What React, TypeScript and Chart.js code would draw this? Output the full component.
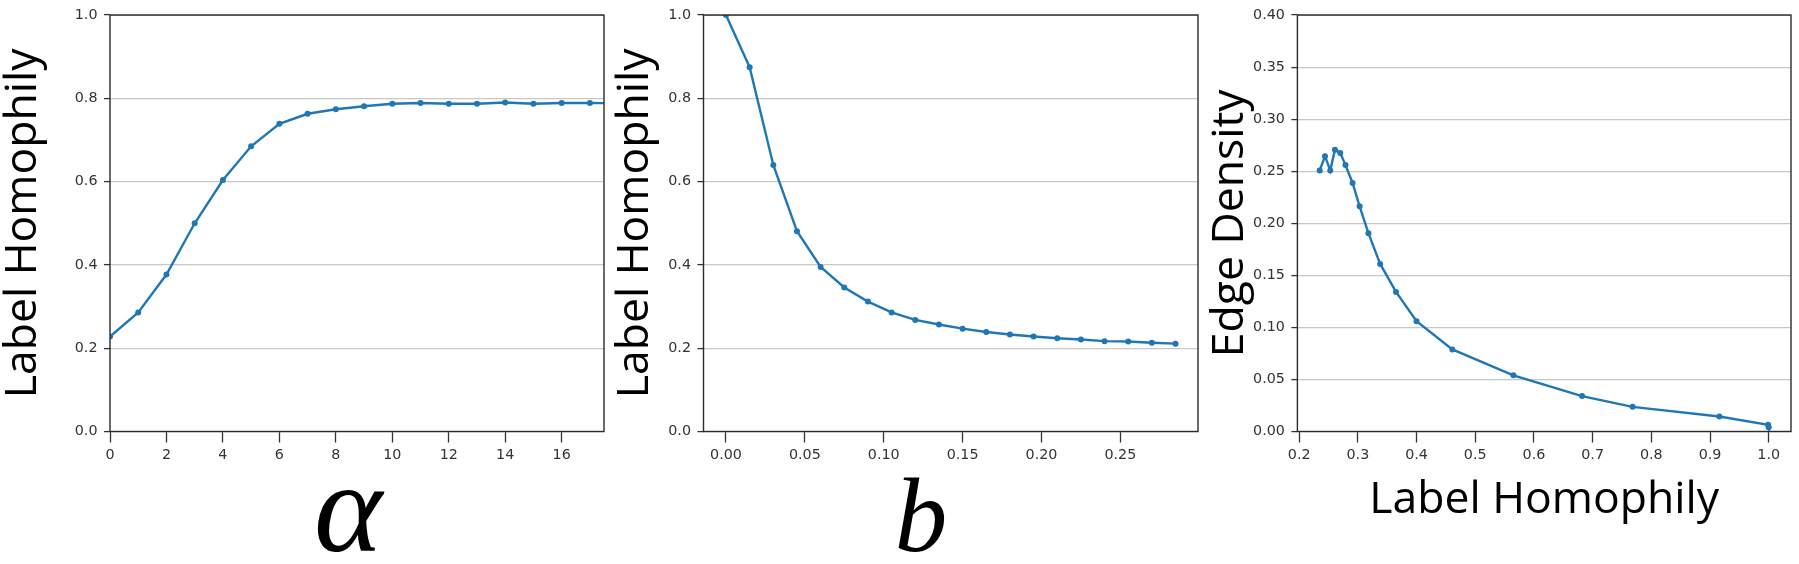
import React, { useEffect, useRef } from 'react';
import { Chart, registerables } from 'chart.js';

Chart.register(...registerables);

// ---------- data ----------
const ALPHA_X = [0, 1, 2, 3, 4, 5, 6, 7, 8, 9, 10, 11, 12, 13, 14, 15, 16, 17, 18];
const ALPHA_HOMOPHILY = [0.228, 0.286, 0.377, 0.5, 0.604, 0.685, 0.739, 0.763, 0.774, 0.781, 0.787, 0.789, 0.787, 0.787, 0.79, 0.787, 0.789, 0.789, 0.788];

const B_X = [0, 0.015, 0.03, 0.045, 0.06, 0.075, 0.09, 0.105, 0.12, 0.135, 0.15, 0.165, 0.18, 0.195, 0.21, 0.225, 0.24, 0.255, 0.27, 0.285];
const B_HOMOPHILY = [1.0, 0.875, 0.64, 0.481, 0.395, 0.346, 0.312, 0.286, 0.268, 0.257, 0.247, 0.239, 0.233, 0.228, 0.224, 0.221, 0.217, 0.216, 0.213, 0.211];

const H_HOMOPHILY = [0.235, 0.244, 0.253, 0.261, 0.27, 0.279, 0.291, 0.303, 0.318, 0.338, 0.365, 0.4, 0.461, 0.565, 0.682, 0.768, 0.916, 0.999, 1.0];
const H_DENSITY = [0.2507, 0.2645, 0.2507, 0.2707, 0.2676, 0.2559, 0.2387, 0.2163, 0.1905, 0.161, 0.1341, 0.1059, 0.0788, 0.054, 0.034, 0.0237, 0.0144, 0.0065, 0.0041];

const ALPHA_TICKS = [0, 2, 4, 6, 8, 10, 12, 14, 16];
const B_TICKS = [0, 0.05, 0.1, 0.15, 0.2, 0.25];
const H_TICKS = [0.2, 0.3, 0.4, 0.5, 0.6, 0.7, 0.8, 0.9, 1.0];
const HOMOPHILY_Y_TICKS = [0, 0.2, 0.4, 0.6, 0.8, 1.0];
const DENSITY_Y_TICKS = [0, 0.05, 0.1, 0.15, 0.2, 0.25, 0.3, 0.35, 0.4];

// ---------- styling ----------
const PAGE_H = 564;
const PLOT_TOP = 11.7;
const PLOT_BOTTOM = 431.5;
const BLUE = '#1f77b4';
const TICK_FONT = { family: 'DejaVu Sans', size: 14.3 };
const TITLE_FONT = { family: 'Open Sans', size: 44.5, lineHeight: 1 };

const framePlugin = {
  id: 'frame',
  afterDatasetsDraw(chart: any) {
    const { ctx, chartArea } = chart;
    const { left, top, right, bottom } = chartArea;
    ctx.save();
    ctx.strokeStyle = '#2b2b2b';
    ctx.lineWidth = 1.4;
    ctx.strokeRect(left, top, right - left, bottom - top);
    ctx.restore();
  },
};

type PanelProps = {
  axisLeft: number;
  plotLeft: number;
  plotRight: number;
  xs: number[];
  ys: number[];
  xMin: number;
  xMax: number;
  yMin: number;
  yMax: number;
  xTicks: number[];
  yTicks: number[];
  xDecimals: number;
  yDecimals: number;
  yTitle: string;
  xTitle?: string;
};

function Panel(p: PanelProps) {
  const ref = useRef<HTMLCanvasElement | null>(null);
  const width = p.plotRight + 8 - p.axisLeft;
  const yAxisWidth = p.plotLeft - p.axisLeft;
  const xAxisHeight = PAGE_H - PLOT_BOTTOM;

  useEffect(() => {
    if (!ref.current) return;
    const chart = new Chart(ref.current, {
      type: 'line',
      data: {
        datasets: [
          {
            data: p.xs.map((x, i) => ({ x, y: p.ys[i] })),
            borderColor: BLUE,
            backgroundColor: BLUE,
            borderWidth: 2.4,
            pointRadius: 3,
            pointBorderWidth: 0,
            tension: 0,
          },
        ],
      },
      options: {
        animation: false,
        responsive: false,
        maintainAspectRatio: false,
        layout: { padding: { left: 0, right: 8, top: PLOT_TOP, bottom: 0 } },
        plugins: { legend: { display: false }, tooltip: { enabled: false } },
        scales: {
          x: {
            type: 'linear',
            min: p.xMin,
            max: p.xMax,
            afterBuildTicks: (scale: any) => {
              scale.ticks = p.xTicks.map((v) => ({ value: v }));
            },
            afterFit: (scale: any) => {
              scale.height = xAxisHeight;
            },
            border: { display: false },
            grid: {
              display: true,
              drawOnChartArea: false,
              drawTicks: true,
              tickLength: 11,
              tickColor: '#333',
              tickWidth: 1.3,
            },
            ticks: {
              font: TICK_FONT,
              color: '#333',
              padding: 4,
              maxRotation: 0,
              autoSkip: false,
              callback: (v: any) => Number(v).toFixed(p.xDecimals),
            },
            title: p.xTitle
              ? {
                  display: true,
                  text: p.xTitle,
                  font: TITLE_FONT,
                  color: '#000',
                  padding: { top: 0, bottom: 41 },
                }
              : { display: false },
          },
          y: {
            type: 'linear',
            min: p.yMin,
            max: p.yMax,
            afterBuildTicks: (scale: any) => {
              scale.ticks = p.yTicks.map((v) => ({ value: v }));
            },
            afterFit: (scale: any) => {
              scale.width = yAxisWidth;
            },
            border: { display: false },
            grid: {
              display: true,
              drawOnChartArea: true,
              drawTicks: true,
              color: '#c8c8c8',
              lineWidth: 1.2,
              tickLength: 6,
              tickColor: '#333',
              tickWidth: 1.3,
            },
            ticks: {
              font: TICK_FONT,
              color: '#333',
              padding: 6.5,
              autoSkip: false,
              callback: (v: any) => Number(v).toFixed(p.yDecimals),
            },
            title: {
              display: true,
              text: p.yTitle,
              font: TITLE_FONT,
              color: '#000',
              padding: { top: 1, bottom: 0 },
            },
          },
        },
      },
      plugins: [framePlugin],
    } as any);
    return () => chart.destroy();
  }, []);

  return (
    <canvas
      ref={ref}
      width={width}
      height={PAGE_H}
      style={{ position: 'absolute', left: p.axisLeft, top: 0, width, height: PAGE_H }}
    />
  );
}

const serifLabel = (text: string, centerX: number, size: number, top: number) => (
  <div
    style={{
      position: 'absolute',
      left: centerX - 100,
      top,
      width: 200,
      textAlign: 'center',
      fontFamily: '"Liberation Serif", "DejaVu Serif", serif',
      fontStyle: 'italic',
      fontSize: size,
      lineHeight: 1,
      color: '#000',
    }}
  >
    {text}
  </div>
);

export default function App() {
  return (
    <div
      style={{
        position: 'absolute',
        left: 0,
        top: 0,
        width: 1799,
        height: PAGE_H,
        background: '#fff',
        overflow: 'hidden',
      }}
    >
      <Panel
        axisLeft={0}
        plotLeft={110}
        plotRight={604}
        xs={ALPHA_X}
        ys={ALPHA_HOMOPHILY}
        xMin={0}
        xMax={17.5}
        yMin={0}
        yMax={1}
        xTicks={ALPHA_TICKS}
        yTicks={HOMOPHILY_Y_TICKS}
        xDecimals={0}
        yDecimals={1}
        yTitle="Label Homophily"
      />
      <Panel
        axisLeft={612}
        plotLeft={703.5}
        plotRight={1198}
        xs={B_X}
        ys={B_HOMOPHILY}
        xMin={-0.01425}
        xMax={0.29925}
        yMin={0}
        yMax={1}
        xTicks={B_TICKS}
        yTicks={HOMOPHILY_Y_TICKS}
        xDecimals={2}
        yDecimals={1}
        yTitle="Label Homophily"
      />
      <Panel
        axisLeft={1207}
        plotLeft={1297.4}
        plotRight={1791}
        xs={H_HOMOPHILY}
        ys={H_DENSITY}
        xMin={0.197}
        xMax={1.038}
        yMin={0}
        yMax={0.4}
        xTicks={H_TICKS}
        yTicks={DENSITY_Y_TICKS}
        xDecimals={1}
        yDecimals={2}
        yTitle="Edge Density"
        xTitle="Label Homophily"
      />
      {serifLabel('α', 348, 130, 442)}
      {serifLabel('b', 921, 105, 463)}
    </div>
  );
}
